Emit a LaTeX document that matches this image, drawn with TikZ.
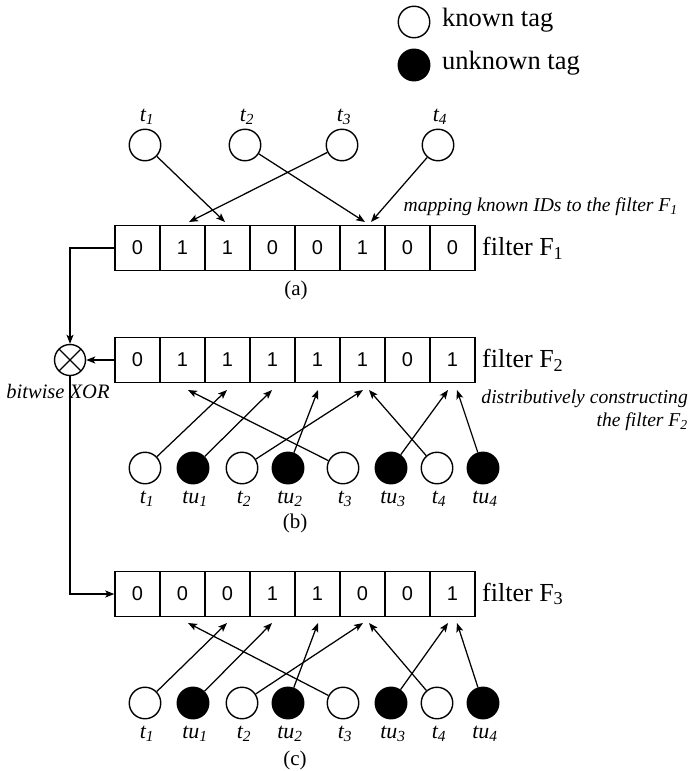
\documentclass[tikz,border=0pt]{standalone}
\usepackage{fontspec}
\setmainfont{Liberation Serif}
\newfontfamily\arialf{Liberation Sans}
\usetikzlibrary{arrows.meta}
\begin{document}
\begin{tikzpicture}[x=1pt,y=-1pt,
  tag/.style={circle,draw,line width=1.4pt,minimum size=31.5pt,inner sep=0pt},
  known/.style={tag,fill=white},
  unknown/.style={tag,fill=black},
  cell/.style={draw,line width=1.4pt,minimum width=45pt,minimum height=45pt,inner sep=0pt,font=\arialf\fontsize{20}{20}\selectfont},
  lbl/.style={font=\fontsize{22}{22}\selectfont\itshape,inner sep=0pt},
  captxt/.style={font=\fontsize{21}{21}\selectfont,inner sep=0pt},
  note/.style={font=\fontsize{19.6}{23}\selectfont\itshape,inner sep=0pt},
  flabel/.style={font=\fontsize{26}{26}\selectfont,inner sep=0pt,anchor=west},
  legtxt/.style={font=\fontsize{26.5}{27}\selectfont,inner sep=0pt,anchor=west},
  arr/.style={-{Stealth[length=9pt,width=7pt,inset=2pt]},line width=1.25pt}
]
\useasboundingbox (0,0) rectangle (694,771);

% legend
\node[known] (lk) at (414,22) {};
\node[unknown] (lu) at (414,65) {};
\node[legtxt] (lkt) at (442,20) {known tag};
\node[legtxt] (lut) at (442,63) {unknown tag};

% (a) top tags
\foreach \x/\n in {145/1,245/2,342/3,438/4}{
  \node[known] (at\n) at (\x,145) {};
  \node[lbl] (atl\n) at (\x+2,117) {t\textsubscript{\n}};
}

% filters
\foreach \b [count=\i] in {0,1,1,0,0,1,0,0}
  \node[cell] (A\i) at ({115+45*(\i-0.5)},248) {\b};
\foreach \b [count=\i] in {0,1,1,1,1,1,0,1}
  \node[cell] (B\i) at ({115+45*(\i-0.5)},360) {\b};
\foreach \b [count=\i] in {0,0,0,1,1,0,0,1}
  \node[cell] (C\i) at ({115+45*(\i-0.5)},594) {\b};

\node[flabel] (fA) at (482,248) {filter F\textsubscript{1}};
\node[flabel] (fB) at (482,360) {filter F\textsubscript{2}};
\node[flabel] (fC) at (482,594) {filter F\textsubscript{3}};

\node[captxt] (capa) at (296,290) {(a)};
\node[captxt] (capb) at (295,523) {(b)};
\node[captxt] (capc) at (295,760) {(c)};

% (a) arrows
\coordinate (pa2) at (189,222);
\coordinate (pa3) at (225,222);
\coordinate (pa6l) at (365,222);
\coordinate (pa6r) at (371,222);
\draw[arr] (at1) -- (pa3);
\draw[arr] (at3) -- (pa2);
\draw[arr] (at2) -- (pa6l);
\draw[arr] (at4) -- (pa6r);

\node[note,anchor=east] (mapn) at (678,207) {mapping known IDs to the filter F\textsubscript{1}};

% (b) and (c) tag rows
\foreach \r/\y/\ty in {b/468/390,c/703/623}{
  \node[known]   (\r t1) at (145,\y) {};
  \node[unknown] (\r u1) at (193,\y) {};
  \node[known]   (\r t2) at (242,\y) {};
  \node[unknown] (\r u2) at (288,\y) {};
  \node[known]   (\r t3) at (343,\y) {};
  \node[unknown] (\r u3) at (391,\y) {};
  \node[known]   (\r t4) at (437,\y) {};
  \node[unknown] (\r u4) at (483,\y) {};
  \node[lbl] (\r lt1) at (147,\y+31) {t\textsubscript{1}};
  \node[lbl] (\r lu1) at (195,\y+31) {tu\textsubscript{1}};
  \node[lbl] (\r lt2) at (244,\y+31) {t\textsubscript{2}};
  \node[lbl] (\r lu2) at (290,\y+31) {tu\textsubscript{2}};
  \node[lbl] (\r lt3) at (345,\y+31) {t\textsubscript{3}};
  \node[lbl] (\r lu3) at (393,\y+31) {tu\textsubscript{3}};
  \node[lbl] (\r lt4) at (439,\y+31) {t\textsubscript{4}};
  \node[lbl] (\r lu4) at (485,\y+31) {tu\textsubscript{4}};
  \coordinate (\r p2) at (188,\ty);
  \coordinate (\r p3) at (227,\ty);
  \coordinate (\r p4) at (272,\ty);
  \coordinate (\r p5) at (318,\ty);
  \coordinate (\r p6l) at (363,\ty);
  \coordinate (\r p6r) at (369,\ty);
  \coordinate (\r p8l) at (448,\ty);
  \coordinate (\r p8r) at (457,\ty);
  \draw[arr] (\r t1) -- (\r p3);
  \draw[arr] (\r u1) -- (\r p4);
  \draw[arr] (\r t2) -- (\r p6l);
  \draw[arr] (\r u2) -- (\r p5);
  \draw[arr] (\r t3) -- (\r p2);
  \draw[arr] (\r u3) -- (\r p8l);
  \draw[arr] (\r t4) -- (\r p6r);
  \draw[arr] (\r u4) -- (\r p8r);
}

\node[note,anchor=east,align=right] (distn) at (688,410) {distributively constructing\\the filter F\textsubscript{2}};

% XOR
\node[circle,draw,line width=1.4pt,minimum size=31pt,inner sep=0pt,
  path picture={\draw[line width=1.4pt] (path picture bounding box.north west) -- (path picture bounding box.south east)
   (path picture bounding box.north east) -- (path picture bounding box.south west);}] (xor) at (70,360) {};
\node[note,font=\fontsize{20.5}{23}\selectfont\itshape] (xorl) at (58,391) {bitwise XOR};
\draw[arr] (A1.west) -| (xor.north);
\draw[arr] (B1.west) -- (xor.east);
\draw[arr] (xor.south) |- (C1.west);
\end{tikzpicture}
\end{document}
